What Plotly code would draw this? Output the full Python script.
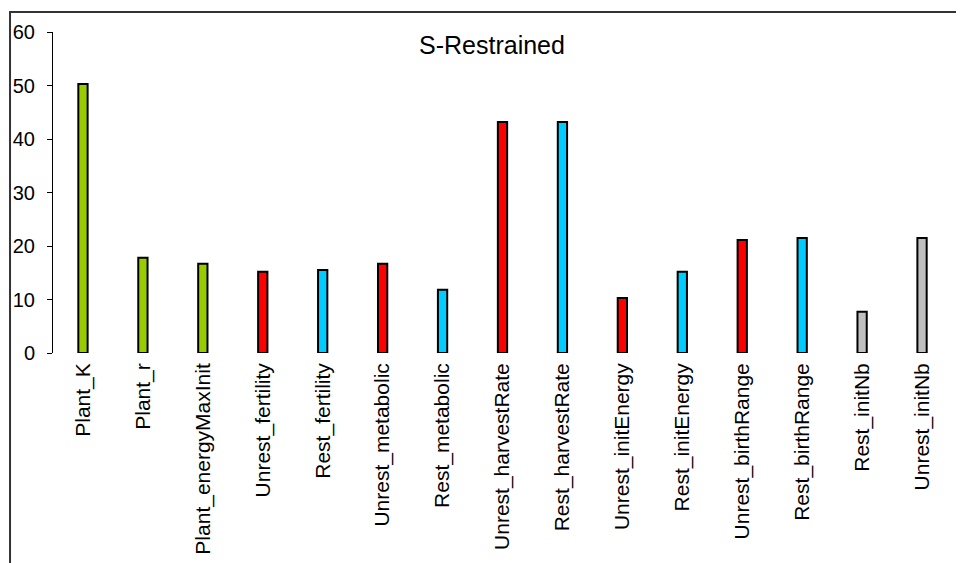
import plotly.graph_objects as go

categories = ["Plant_K", "Plant_r", "Plant_energyMaxInit", "Unrest_fertility", "Rest_fertility",
              "Unrest_metabolic", "Rest_metabolic", "Unrest_harvestRate", "Rest_harvestRate",
              "Unrest_initEnergy", "Rest_initEnergy", "Unrest_birthRange", "Rest_birthRange",
              "Rest_initNb", "Unrest_initNb"]
values = [50.3, 17.8, 16.7, 15.2, 15.5, 16.7, 11.8, 43.2, 43.2, 10.3, 15.2, 21.1, 21.5, 7.7, 21.5]
bar_colors = ["#99CC00", "#99CC00", "#99CC00", "#FF0000", "#00CCFF", "#FF0000", "#00CCFF",
              "#FF0000", "#00CCFF", "#FF0000", "#00CCFF", "#FF0000", "#00CCFF", "#C0C0C0", "#C0C0C0"]
y_ticks = [0, 10, 20, 30, 40, 50, 60]
title_text = "S-Restrained"

FONT = "Liberation Sans, Arial, sans-serif"

fig = go.Figure(go.Bar(
    x=categories, y=values,
    marker=dict(color=bar_colors, line=dict(color="black", width=2)),
    width=0.155,
))

fig.update_layout(
    width=956, height=555,
    margin=dict(l=45, r=11.5, t=24, b=210, autoexpand=False),
    paper_bgcolor="white", plot_bgcolor="white",
    showlegend=False,
    font=dict(family=FONT, color="black"),
    xaxis=dict(
        tickangle=-90, showgrid=False, showline=False, zeroline=False, automargin=False,
        ticks="", tickfont=dict(size=21, family=FONT, color="black"),
        ticklabelstandoff=5,
    ),
    yaxis=dict(
        range=[0, 60], tickvals=y_ticks, showgrid=False, zeroline=False, automargin=False,
        showline=True, linecolor="black", linewidth=1,
        ticks="outside", ticklen=5, tickcolor="black", tickwidth=1,
        tickfont=dict(size=20, family=FONT, color="black"),
        ticklabelstandoff=8,
    ),
    annotations=[dict(
        text=title_text, x=0.488, y=0.961, xref="paper", yref="paper",
        xanchor="center", yanchor="middle", showarrow=False,
        font=dict(size=25, family=FONT, color="black"),
    )],
    shapes=[dict(
        type="rect", xref="paper", yref="paper",
        x0=-0.0478, x1=1.05, y0=-0.8, y1=1.0623,
        line=dict(color="#333333", width=2), fillcolor="rgba(0,0,0,0)",
        layer="below",
    )],
)

fig.write_html("out.html")
